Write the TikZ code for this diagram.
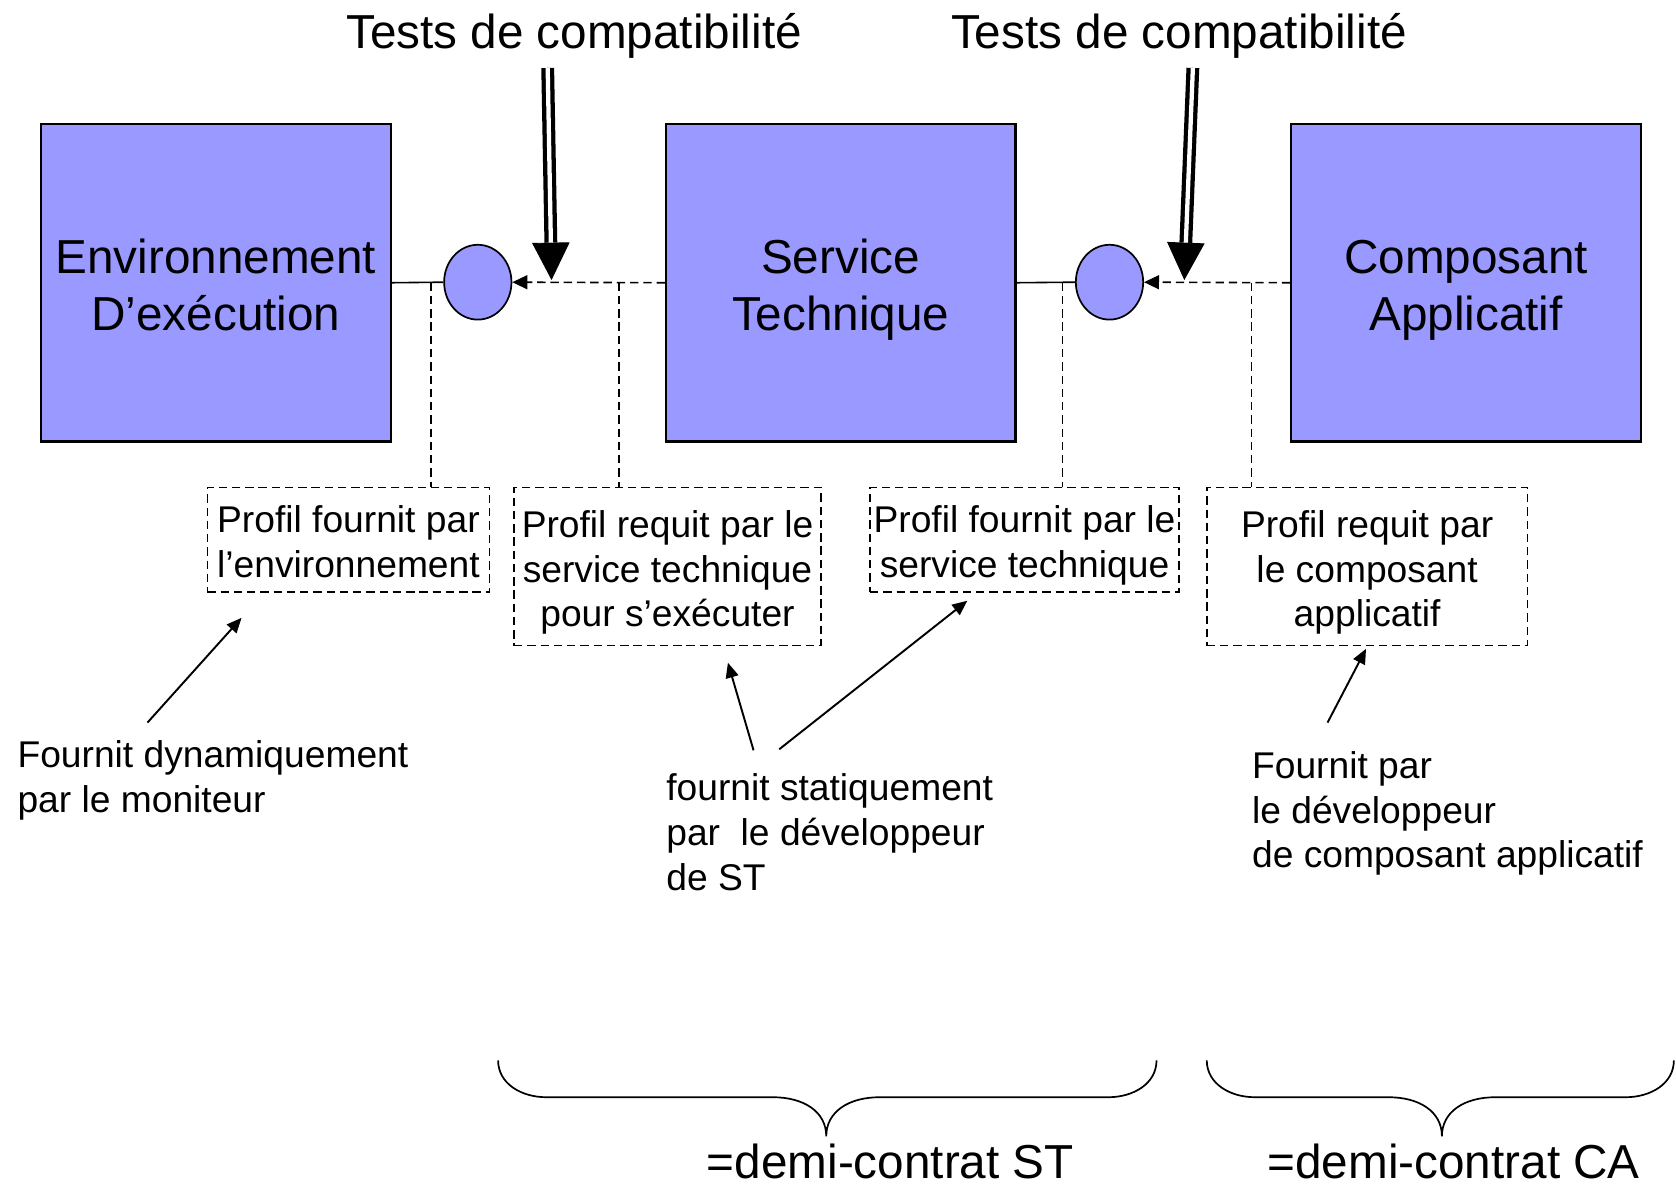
\documentclass[tikz,border=0pt]{standalone}
\usepackage{fontspec}
\setmainfont{Liberation Sans}
\usetikzlibrary{arrows.meta,calc,shapes.geometric}
\definecolor{boxblue}{HTML}{9999FF}
\newcommand\bxtop{\rule{0pt}{26pt}}
\newcommand\pftop{\rule{0pt}{20.8pt}}
\begin{document}
\begin{tikzpicture}[x=0.5pt,y=-0.5pt,
  bigfont/.style={font=\fontsize{22.3}{26.5}\selectfont},
  smallfont/.style={font=\fontsize{17.4}{21}\selectfont},
  bigbox/.style={draw, line width=1pt, fill=boxblue, minimum width=163.5pt, minimum height=148.5pt, inner sep=0pt, align=center, bigfont},
  port/.style={draw, ellipse, line width=0.8pt, fill=boxblue, minimum width=31.5pt, minimum height=35pt, inner sep=0pt},
  profil/.style={draw, line width=0.75pt, dash pattern=on 3.9pt off 2.3pt, inner sep=0pt, align=center, smallfont},
  dashlink/.style={line width=0.75pt, dash pattern=on 3.9pt off 2.3pt},
  solidlink/.style={line width=0.75pt},
  reqarrow/.style={line width=0.75pt, dash pattern=on 3.9pt off 2.3pt, -{Triangle[length=7pt,width=6.5pt]}},
  notearrow/.style={line width=0.9pt, -{Triangle[length=7pt,width=6pt]}},
  shaft/.style={line width=2pt, double=white, double distance=2pt},
  bighead/.style={line width=0.4pt, -{Triangle[length=17.5pt,width=17.5pt]}},
  brace/.style={line width=0.8pt},
  note/.style={align=left, smallfont, inner sep=0pt}
]
\useasboundingbox (0,0) rectangle (1568,1110);

% titles
\node[bigfont, anchor=base, inner sep=0pt] (t1) at (537,45) {Tests de compatibilité};
\node[bigfont, anchor=base, inner sep=0pt] (t2) at (1103,45) {Tests de compatibilité};

% main boxes
\node[bigbox] (env) at (202,264.5) {\bxtop Environnement\\D’exécution\strut};
\node[bigbox] (st) at (786.5,264.5) {\bxtop Service\\Technique\strut};
\node[bigbox] (ca) at (1371.5,264.5) {\bxtop Composant\\Applicatif\strut};

% ports
\node[port] (c1) at (447,264) {};
\node[port] (c2) at (1038,264) {};

% links
\draw[solidlink] (env.east) -- (c1.west);
\draw[solidlink] (st.east) -- (c2.west);
\draw[reqarrow] (st.west) -- (c1.east);
\draw[reqarrow] (ca.west) -- (c2.east);

% profile boxes
\node[profil, minimum width=132pt, minimum height=49pt] (p1) at (326,505) {\pftop Profil fournit par\\l’environnement\strut};
\node[profil, minimum width=143.5pt, minimum height=74pt] (p2) at (624.5,530) {\pftop Profil requit par le\\service technique\\pour s’exécuter\strut};
\node[profil, minimum width=144.5pt, minimum height=49pt] (p3) at (958.5,505) {\pftop Profil fournit par le\\service technique\strut};
\node[profil, minimum width=150pt, minimum height=74pt] (p4) at (1279,530) {\pftop Profil requit par\\le composant\\applicatif\strut};

% drops
\coordinate (d1) at (403,264.5);
\coordinate (d2) at (579,264.5);
\coordinate (d3) at (994,264.5);
\coordinate (d4) at (1171,264.5);
\draw[dashlink] (d1) -- (d1 |- p1.north);
\draw[dashlink] (d2) -- (d2 |- p2.north);
\draw[dashlink] (d3) -- (d3 |- p3.north);
\draw[dashlink] (d4) -- (d4 |- p4.north);

% compatibility arrows
\coordinate (a1top) at (512.4,63.6);
\coordinate (a1tip) at (516,262);
\coordinate (a2top) at (1116,63.6);
\coordinate (a2tip) at (1108,262);
\draw[bighead] (a1top) -- (a1tip);
\draw[shaft] (a1top) -- ($(a1tip)!17.5pt!(a1top)$);
\draw[bighead] (a2top) -- (a2tip);
\draw[shaft] (a2top) -- ($(a2tip)!17.5pt!(a2top)$);

% notes
\node[note, anchor=base west] (n1) at (16,760) {Fournit dynamiquement\\par le moniteur};
\node[note, anchor=base west] (n2) at (623,833) {fournit statiquement\\par\ \ le développeur\\de ST};
\node[note, anchor=base west] (n3) at (1171,812) {Fournit par\\le développeur\\de composant applicatif};

\coordinate (n1s) at (138,676);
\coordinate (n1e) at (226,578);
\coordinate (n2s) at (705,702);
\coordinate (n2e) at (681,620);
\coordinate (n2t) at (729,701);
\coordinate (n2f) at (905,562);
\coordinate (n3s) at (1242,676);
\coordinate (n3e) at (1278,607);
\draw[notearrow] (n1s) -- (n1e);
\draw[notearrow] (n2s) -- (n2e);
\draw[notearrow] (n2t) -- (n2f);
\draw[notearrow] (n3s) -- (n3e);

% braces
\draw[brace] (466,992) .. controls (466,1014) and (488,1026.5) .. (511,1026.5) -- (723,1026.5)
  .. controls (752,1026.5) and (773,1040) .. (773,1063)
  .. controls (773,1040) and (794,1026.5) .. (823,1026.5) -- (1037,1026.5)
  .. controls (1060,1026.5) and (1082,1014) .. (1082,992);
\draw[brace] (1129,992) .. controls (1129,1014) and (1151,1026.5) .. (1174,1026.5) -- (1299,1026.5)
  .. controls (1328,1026.5) and (1349,1040) .. (1349,1063)
  .. controls (1349,1040) and (1370,1026.5) .. (1399,1026.5) -- (1521,1026.5)
  .. controls (1544,1026.5) and (1566,1014) .. (1566,992);

\node[bigfont, anchor=base, inner sep=0pt] (dst) at (833,1103) {=demi-contrat ST};
\node[bigfont, anchor=base, inner sep=0pt] (dca) at (1360,1103) {=demi-contrat CA};
\end{tikzpicture}
\end{document}
